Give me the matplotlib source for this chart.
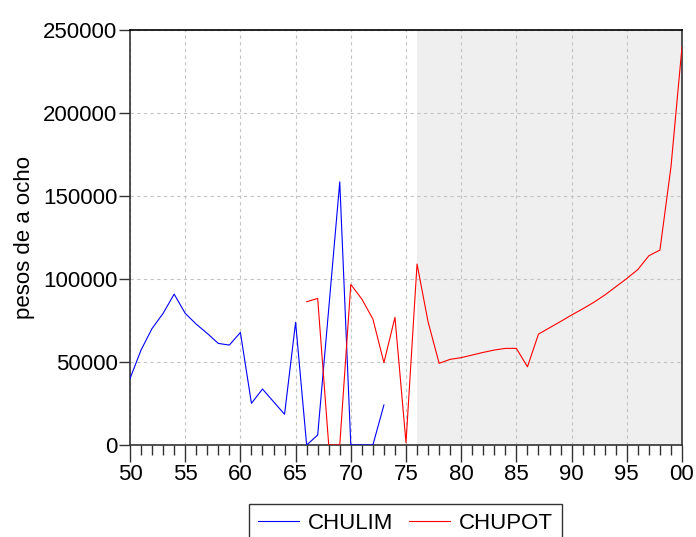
import numpy as np
import matplotlib.pyplot as plt

plt.rcParams['font.family'] = ['Liberation Sans', 'DejaVu Sans']

# CHULIM, 1750-1773
anios_chulim = list(range(50, 74))
chulim = [40000, 57200, 70200, 79300, 90900, 79300, 72800, 67200, 61200, 60200,
          67800, 25100, 33700, 26100, 18500, 73900, 0, 6000, 82000, 158500,
          0, 0, 0, 24100]

# CHUPOT, 1766-1800
anios_chupot = list(range(66, 101))
chupot = [86300, 88300, 0, 0, 96700, 87900, 75900, 49600, 76900, 1400,
          109000, 74200, 49200, 51600, 52600, 54200, 55800, 57200, 58200, 58200,
          47100, 66800, 70600, 74400, 78300, 82000, 85900, 90300, 95300, 100300,
          105700, 114000, 117400, 167500, 239800]

ticks_x = [50, 55, 60, 65, 70, 75, 80, 85, 90, 95, 100]
etiquetas_x = ['50', '55', '60', '65', '70', '75', '80', '85', '90', '95', '00']
ticks_y = [0, 50000, 100000, 150000, 200000, 250000]

fig = plt.figure(figsize=(6.96, 5.37), dpi=100)
ax = fig.add_axes([130/696, 1-445/537, 552/696, 415/537])

ax.axvspan(76, 100, color='#efefef', zorder=0.2, lw=0)
ax.plot(anios_chulim, chulim, color='blue', lw=0.8, label='CHULIM', zorder=3)
ax.plot(anios_chupot, chupot, color='red', lw=0.8, label='CHUPOT', zorder=3)

ax.set_xlim(50, 100)
ax.set_ylim(0, 250000)
ax.set_xticks(ticks_x)
ax.set_xticklabels(etiquetas_x)
ax.set_xticks(range(50, 101), minor=True)
ax.set_yticks(ticks_y)
ax.set_yticklabels([str(v) for v in ticks_y])

ax.tick_params(axis='both', which='major', labelsize=16, direction='out', width=1, color='#333333')
ax.tick_params(axis='x', which='major', length=12, pad=2)
ax.tick_params(axis='x', which='minor', length=7, width=1, color='#333333')
ax.tick_params(axis='y', which='major', length=8, pad=1)

ax.set_axisbelow(True)
ax.grid(True, which='major', color='#c4c4c4', ls=(0, (3, 3)), lw=0.8)

for lado in ['left', 'bottom', 'top', 'right']:
    ax.spines[lado].set_color('#333333')
    ax.spines[lado].set_linewidth(1.2)
ax.spines['top'].set_color('black')

ax.set_ylabel('pesos de a ocho', fontsize=16, labelpad=6)

fig.legend(loc='upper center', bbox_to_anchor=(405.5/696, 1-504/537), ncol=2,
           fontsize=16, frameon=True, fancybox=False, edgecolor='black',
           handlelength=1.85, handletextpad=0.4, columnspacing=0.7,
           borderpad=0.4, borderaxespad=0)

fig.savefig('out.png', dpi=100)
